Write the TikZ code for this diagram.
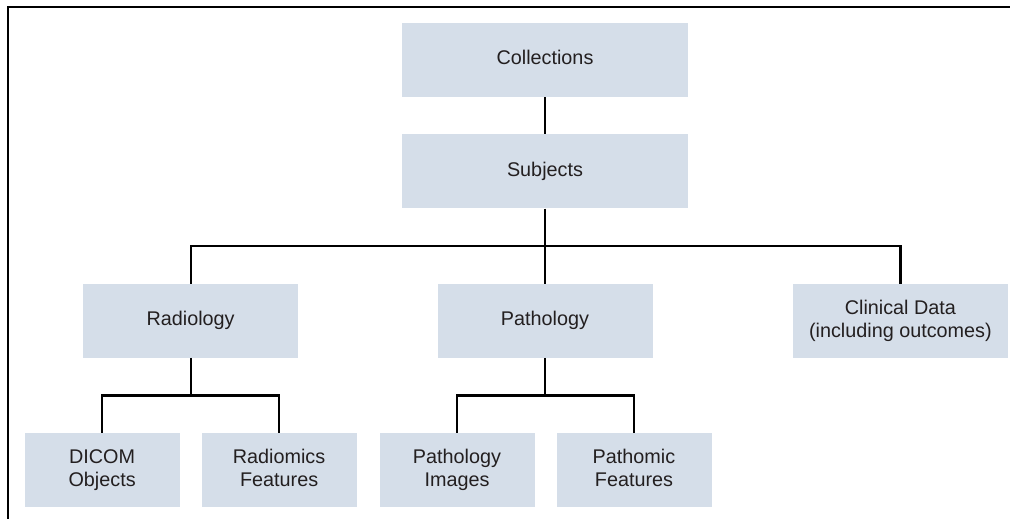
\documentclass[tikz,border=0pt]{standalone}
\usepackage{fontspec}
\setmainfont{Liberation Sans}
\usetikzlibrary{arrows,positioning}
\definecolor{boxblue}{RGB}{213,222,233}
\definecolor{textgrey}{RGB}{35,31,32}
\newcommand\boxstrut{\rule[-4.6pt]{0pt}{18.8pt}}
\tikzset{
    %Define style for boxes
    punkt/.style={
           rectangle,
           fill=boxblue,
           inner sep=0pt,
           minimum height=74pt,
           align=center,
           text=textgrey,
           execute at begin node=\boxstrut,
           execute at end node=\boxstrut,
           font=\fontsize{19.8}{23}\selectfont},
    topbox/.style={punkt, minimum width=286pt},
    midbox/.style={punkt, minimum width=215pt},
    leafbox/.style={punkt, minimum width=155pt},
    % Define line style
    pil/.style={
           line width=2.2pt,
           black}
}
\begin{document}
\begin{tikzpicture}[node distance=37pt, auto,]
  \useasboundingbox (0,0) rectangle (1010pt,519pt);
  % frame
  \draw[line width=1.4pt] (8pt,0) |- (1010pt,512pt);
  \node[topbox] (collections) at (545pt,459pt) {Collections};
  \node[topbox,below=of collections] (subjects) {Subjects};
  \node[midbox,below=75pt of subjects] (pathology) {Pathology};
  \node[midbox,left=139pt of pathology] (radiology) {Radiology};
  \node[midbox,right=140pt of pathology] (clinical) {Clinical Data\\(including outcomes)};
  \node[leafbox,below=75pt of radiology,xshift=-88.5pt] (dicom) {DICOM\\Objects};
  \node[leafbox,below=75pt of radiology,xshift=88.5pt] (radiomics) {Radiomics\\Features};
  \node[leafbox,below=75pt of pathology,xshift=-88pt] (pathimages) {Pathology\\Images};
  \node[leafbox,below=75pt of pathology,xshift=89pt] (pathomic) {Pathomic\\Features};
  % connectors
  \draw[pil] (collections) -- (subjects);
  \draw[pil] (subjects) -- (pathology);
  \draw[pil] (radiology.north) -- ++(0,37.5pt) -| (clinical.north);
  \draw[pil] (radiology) -- ++(0,-74.5pt);
  \draw[pil] (dicom.north) -- ++(0,37.5pt) -| (radiomics.north);
  \draw[pil] (pathology) -- ++(0,-74.5pt);
  \draw[pil] (pathimages.north) -- ++(0,37.5pt) -| (pathomic.north);
\end{tikzpicture}
\end{document}
